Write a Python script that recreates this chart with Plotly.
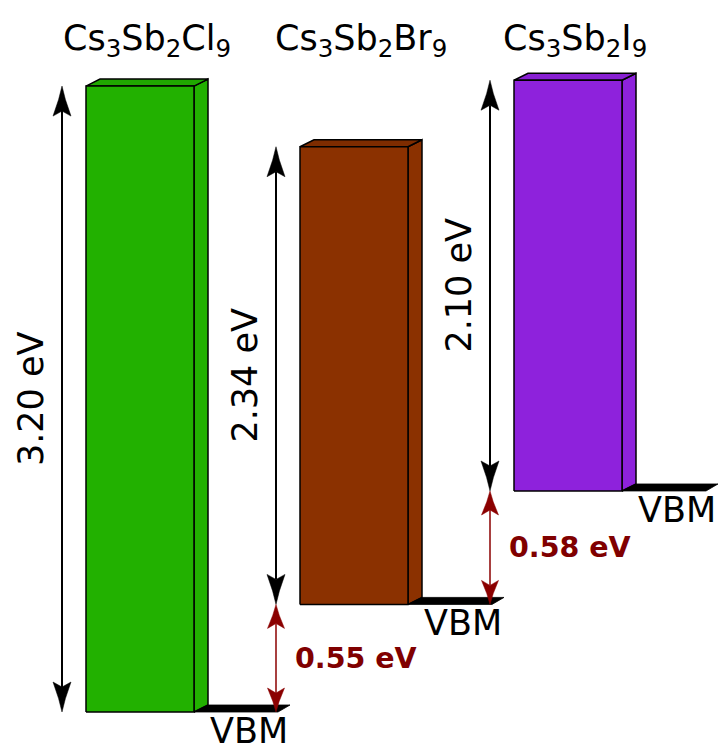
import plotly.graph_objects as go

# ---- data -------------------------------------------------------------
compounds = [
    "Cs<sub>3</sub>Sb<sub>2</sub>Cl<sub>9</sub>",
    "Cs<sub>3</sub>Sb<sub>2</sub>Br<sub>9</sub>",
    "Cs<sub>3</sub>Sb<sub>2</sub>I<sub>9</sub>",
]
band_gaps = [3.20, 2.34, 2.10]          # eV
vbm_offsets = [0.55, 0.58]              # eV, VBM step between neighbours
gap_labels = ["3.20 eV", "2.34 eV", "2.10 eV"]
offset_labels = ["0.55 eV", "0.58 eV"]

front_colors = ["#22b100", "#8b3100", "#8e22dc"]
top_colors = ["#20a800", "#7e2c00", "#8820d2"]

# ---- geometry ---------------------------------------------------------
W, H = 718, 745
PX_PER_EV = 195.6
BASE_PX = 712                 # pixel row of the lowest VBM
BAR_X0, BAR_PITCH, BAR_W = 86, 214, 108
DEPTH_X = 14
DEPTH_Y = 7 / PX_PER_EV
SHELF_LEN = 96
ARROW_DX = 24

def px_to_ev(px):
    return px / PX_PER_EV

vbm = [0.0]
for off in vbm_offsets:
    vbm.append(vbm[-1] + off)
cbm = [v + g for v, g in zip(vbm, band_gaps)]

fig = go.Figure()

def poly(xs, ys, fill, lw=1.5, lc="black"):
    fig.add_trace(go.Scatter(
        x=xs + [xs[0]], y=ys + [ys[0]], mode="lines", fill="toself",
        fillcolor=fill, line=dict(color=lc, width=lw),
        hoverinfo="skip", showlegend=False))

def arrow_head(x, y_tip, direction, color, length_px, half_w, notch_px):
    d = direction  # +1 pointing up, -1 pointing down
    L = px_to_ev(length_px) * d
    N = px_to_ev(notch_px) * d
    M = px_to_ev(length_px * 0.45) * d
    xs = [x, x + half_w * 0.38, x + half_w, x, x - half_w, x - half_w * 0.38]
    ys = [y_tip, y_tip - M, y_tip - L, y_tip - N, y_tip - L, y_tip - M]
    poly(xs, ys, color, lw=0.5, lc=color)

def double_arrow(x, y0, y1, color, width, length_px, half_w, notch_px):
    fig.add_trace(go.Scatter(
        x=[x, x], y=[y0 + px_to_ev(notch_px), y1 - px_to_ev(notch_px)],
        mode="lines", line=dict(color=color, width=width),
        hoverinfo="skip", showlegend=False))
    arrow_head(x, y1, +1, color, length_px, half_w, notch_px)
    arrow_head(x, y0, -1, color, length_px, half_w, notch_px)

annotations = []
for i, name in enumerate(compounds):
    xl = BAR_X0 + i * BAR_PITCH
    xr = xl + BAR_W
    yb, yt = vbm[i], cbm[i]

    # 3-D block: side, top, front
    poly([xr, xr + DEPTH_X, xr + DEPTH_X, xr],
         [yb, yb + DEPTH_Y, yt + DEPTH_Y, yt], front_colors[i])
    poly([xl, xl + DEPTH_X, xr + DEPTH_X, xr],
         [yt, yt + DEPTH_Y, yt + DEPTH_Y, yt], top_colors[i])
    poly([xl, xr, xr, xl], [yb, yb, yt, yt], front_colors[i])

    # VBM shelf
    poly([xr, xr + DEPTH_X, xr + SHELF_LEN, xr + SHELF_LEN - 12],
         [yb, yb + DEPTH_Y, yb + DEPTH_Y, yb], "black", lw=0.8)
    annotations.append(dict(
        x=xr + 55, y=yb - px_to_ev(19), text="VBM", showarrow=False,
        font=dict(size=35, color="black"), xanchor="center", yanchor="middle"))

    # band-gap arrow and label
    ax = xl - ARROW_DX
    double_arrow(ax, yb, yt, "black", 2, 30, 9, 25)
    annotations.append(dict(
        x=ax - 31, y=(yb + yt) / 2, text=gap_labels[i], textangle=-90,
        showarrow=False, font=dict(size=35, color="black"),
        xanchor="center", yanchor="middle"))

    # compound name
    annotations.append(dict(
        x=xl + (BAR_W + DEPTH_X) / 2, y=px_to_ev(BASE_PX - 40), text=name,
        showarrow=False, font=dict(size=35, color="black"),
        xanchor="center", yanchor="middle"))

# VBM offset arrows
for j, off in enumerate(vbm_offsets):
    ax = BAR_X0 + (j + 1) * BAR_PITCH - ARROW_DX
    y0, y1 = vbm[j], vbm[j + 1]
    double_arrow(ax, y0, y1, "#8b0000", 1.5, 24, 8.5, 19)
    annotations.append(dict(
        x=ax + 17, y=(y0 + y1) / 2, text="<b>" + offset_labels[j] + "</b>",
        showarrow=False, font=dict(size=28.5, color="#800000"),
        xanchor="left", yanchor="middle"))

fig.update_layout(
    width=W, height=H,
    margin=dict(l=0, r=0, t=0, b=0),
    paper_bgcolor="white", plot_bgcolor="white",
    font=dict(family="DejaVu Sans"),
    xaxis=dict(range=[0, W], visible=False, fixedrange=True),
    yaxis=dict(range=[-px_to_ev(H - BASE_PX), px_to_ev(BASE_PX)],
               visible=False, fixedrange=True),
    annotations=annotations,
)

fig.write_html("out.html")
